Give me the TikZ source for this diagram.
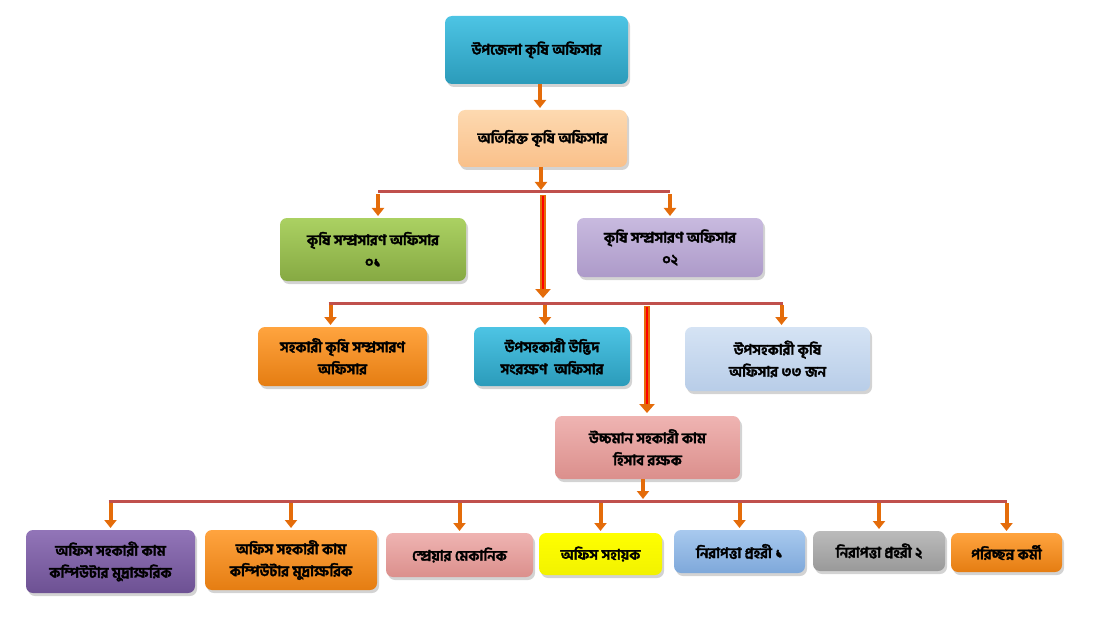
\documentclass[tikz,border=0pt]{standalone}
\usepackage{fontspec}
\newfontfamily\bn[Script=Bengali,FakeBold=2.2]{Hind Siliguri}
\usetikzlibrary{arrows.meta,shadows}

\definecolor{arrOrange}{HTML}{E46C0A}
\definecolor{barRed}{HTML}{C0504D}
\definecolor{tealA}{HTML}{4DC4E4}   \definecolor{tealB}{HTML}{2B9BBA}
\definecolor{peachA}{HTML}{FDD9B0}  \definecolor{peachB}{HTML}{F9C08A}
\definecolor{greenA}{HTML}{ABD162}  \definecolor{greenB}{HTML}{86A943}
\definecolor{lavA}{HTML}{C8BADF}    \definecolor{lavB}{HTML}{AD9AC9}
\definecolor{orA}{HTML}{FFA43F}     \definecolor{orB}{HTML}{E57D12}
\definecolor{skyA}{HTML}{D5E3F4}    \definecolor{skyB}{HTML}{B8CDE8}
\definecolor{pinkA}{HTML}{EFB4B2}   \definecolor{pinkB}{HTML}{DB8F8C}
\definecolor{purA}{HTML}{9275B8}    \definecolor{purB}{HTML}{6D5193}
\definecolor{yelA}{HTML}{FFFF00}    \definecolor{yelB}{HTML}{F2F200}
\definecolor{bluA}{HTML}{A8C9EE}    \definecolor{bluB}{HTML}{7EA8DA}
\definecolor{grayA}{HTML}{BBBBBB}   \definecolor{grayB}{HTML}{999999}

\begin{document}
\begin{tikzpicture}[x=1pt,y=-1pt,
    B/.style = {rectangle, rounded corners=7pt, align=center,% styles of boxes
                font=\bn\bfseries\fontsize{14.5}{22}\selectfont,
                inner sep=2pt, outer sep=0pt,
                drop shadow={opacity=.35, shadow xshift=2pt, shadow yshift=-3pt}},
   sz/.style 2 args = {minimum width=#1, minimum height=#2},
   cl/.style = {top color=#1A, bottom color=#1B},
  bar/.style = {draw=barRed, line width=3pt},
  arr/.style = {draw=arrOrange, line width=4pt,
                -{Triangle[width=12pt,length=8pt]},
                shorten <=2pt, shorten >=2pt},
  big/.style = {draw=arrOrange, line width=6pt,
                -{Triangle[width=15pt,length=9pt]}},
  mid/.style = {draw=red, line width=1.6pt},
                        ]
\useasboundingbox (0,0) rectangle (1097,631);
% boxes
\node[B, sz={183pt}{68pt}, cl=teal]  (T)  at (536.5,50)  {উপজেলা কৃষি অফিসার};
\node[B, sz={169pt}{57pt}, cl=peach] (A)  at (542.5,138.5) {অতিরিক্ত কৃষি অফিসার};
\node[B, sz={186pt}{63pt}, cl=green] (K1) at (373,249.5) {কৃষি সম্প্রসারণ অফিসার\\০১};
\node[B, sz={186pt}{59pt}, cl=lav]   (K2) at (670,247.5) {কৃষি সম্প্রসারণ অফিসার\\০২};
\node[B, sz={169pt}{59pt}, cl=or]    (S1) at (342.5,356.5) {সহকারী কৃষি সম্প্রসারণ\\অফিসার};
\node[B, sz={156pt}{59pt}, cl=teal]  (S2) at (552,356.5) {উপসহকারী উদ্ভিদ\\সংরক্ষণ~ অফিসার};
\node[B, sz={185pt}{64pt}, cl=sky]   (S3) at (777.5,359) {উপসহকারী কৃষি\\অফিসার ৩৩ জন};
\node[B, sz={185pt}{63pt}, cl=pink]  (U)  at (647.5,447.5) {উচ্চমান সহকারী কাম\\হিসাব রক্ষক};
% bottom row
\node[B, sz={169pt}{63pt}, cl=pur]  (O1) at (110.5,561.5) {অফিস সহকারী কাম\\কম্পিউটার মুদ্রাক্ষরিক};
\node[B, sz={172pt}{60pt}, cl=or]   (O2) at (291,560) {অফিস সহকারী কাম\\কম্পিউটার মুদ্রাক্ষরিক};
\node[B, sz={147pt}{44pt}, cl=pink] (O3) at (459.5,555) {স্প্রেয়ার মেকানিক};
\node[B, sz={123pt}{42pt}, cl=yel]  (O4) at (600.5,554) {অফিস সহায়ক};
\node[B, sz={131pt}{43pt}, cl=blu]  (O5) at (739.5,551.5) {নিরাপত্তা প্রহরী ১};
\node[B, sz={132pt}{40pt}, cl=gray] (O6) at (879,551) {নিরাপত্তা প্রহরী ২};
\node[B, sz={111pt}{39pt}, cl=or]   (O7) at (1006.5,552.5) {পরিচ্ছন্ন কর্মী};
% bars
\coordinate (b1) at (541,192);
\coordinate (b2) at (543,303);
\coordinate (b3) at (643,501);
\draw[bar] ([xshift=5pt]K1.north |- b1) -- (K2.north |- b1);
\draw[bar] ([xshift=-14pt]S1.north |- b2) -- ([xshift=5pt]S3.north |- b2);
\draw[bar] ([xshift=-2pt]O1.north |- b3) -- (O7.north |- b3);
% arrows
\draw[arr, shorten <=0pt] ([xshift=3.5pt]T.south) -- ([xshift=3.5pt]T.south |- A.north);
\draw[arr, shorten <=0pt] (A.south -| b1) -- (b1);
\draw[arr] ([xshift=5pt]K1.north |- b1) -- ([xshift=5pt]K1.north);
\draw[arr] (K2.north |- b1) -- (K2.north);
\draw[arr] ([xshift=-12pt]S1.north |- b2) -- ([xshift=-12pt]S1.north);
\draw[arr] ([xshift=-7pt]S2.north |- b2) -- ([xshift=-7pt]S2.north);
\draw[arr] ([xshift=4pt]S3.north |- b2) -- ([xshift=4pt]S3.north);
\draw[arr, shorten <=0pt] (U.south -| b3) -- (b3);
\foreach \i in {1,...,7}% <-- bottom row
    \draw[arr] (O\i.north |- b3) -- (O\i.north);
% long arrows
\coordinate (c2) at (647,303);
\draw[big, shorten <=3pt, shorten >=5pt] (b1 -| b2) -- (b2);
\draw[mid, shorten <=4pt, shorten >=14pt] (b1 -| b2) -- (b2);
\draw[big, shorten <=3pt, shorten >=3pt] (c2) -- (U.north -| c2);
\draw[mid, shorten <=4pt, shorten >=12pt] (c2) -- (U.north -| c2);
\end{tikzpicture}
\end{document}
